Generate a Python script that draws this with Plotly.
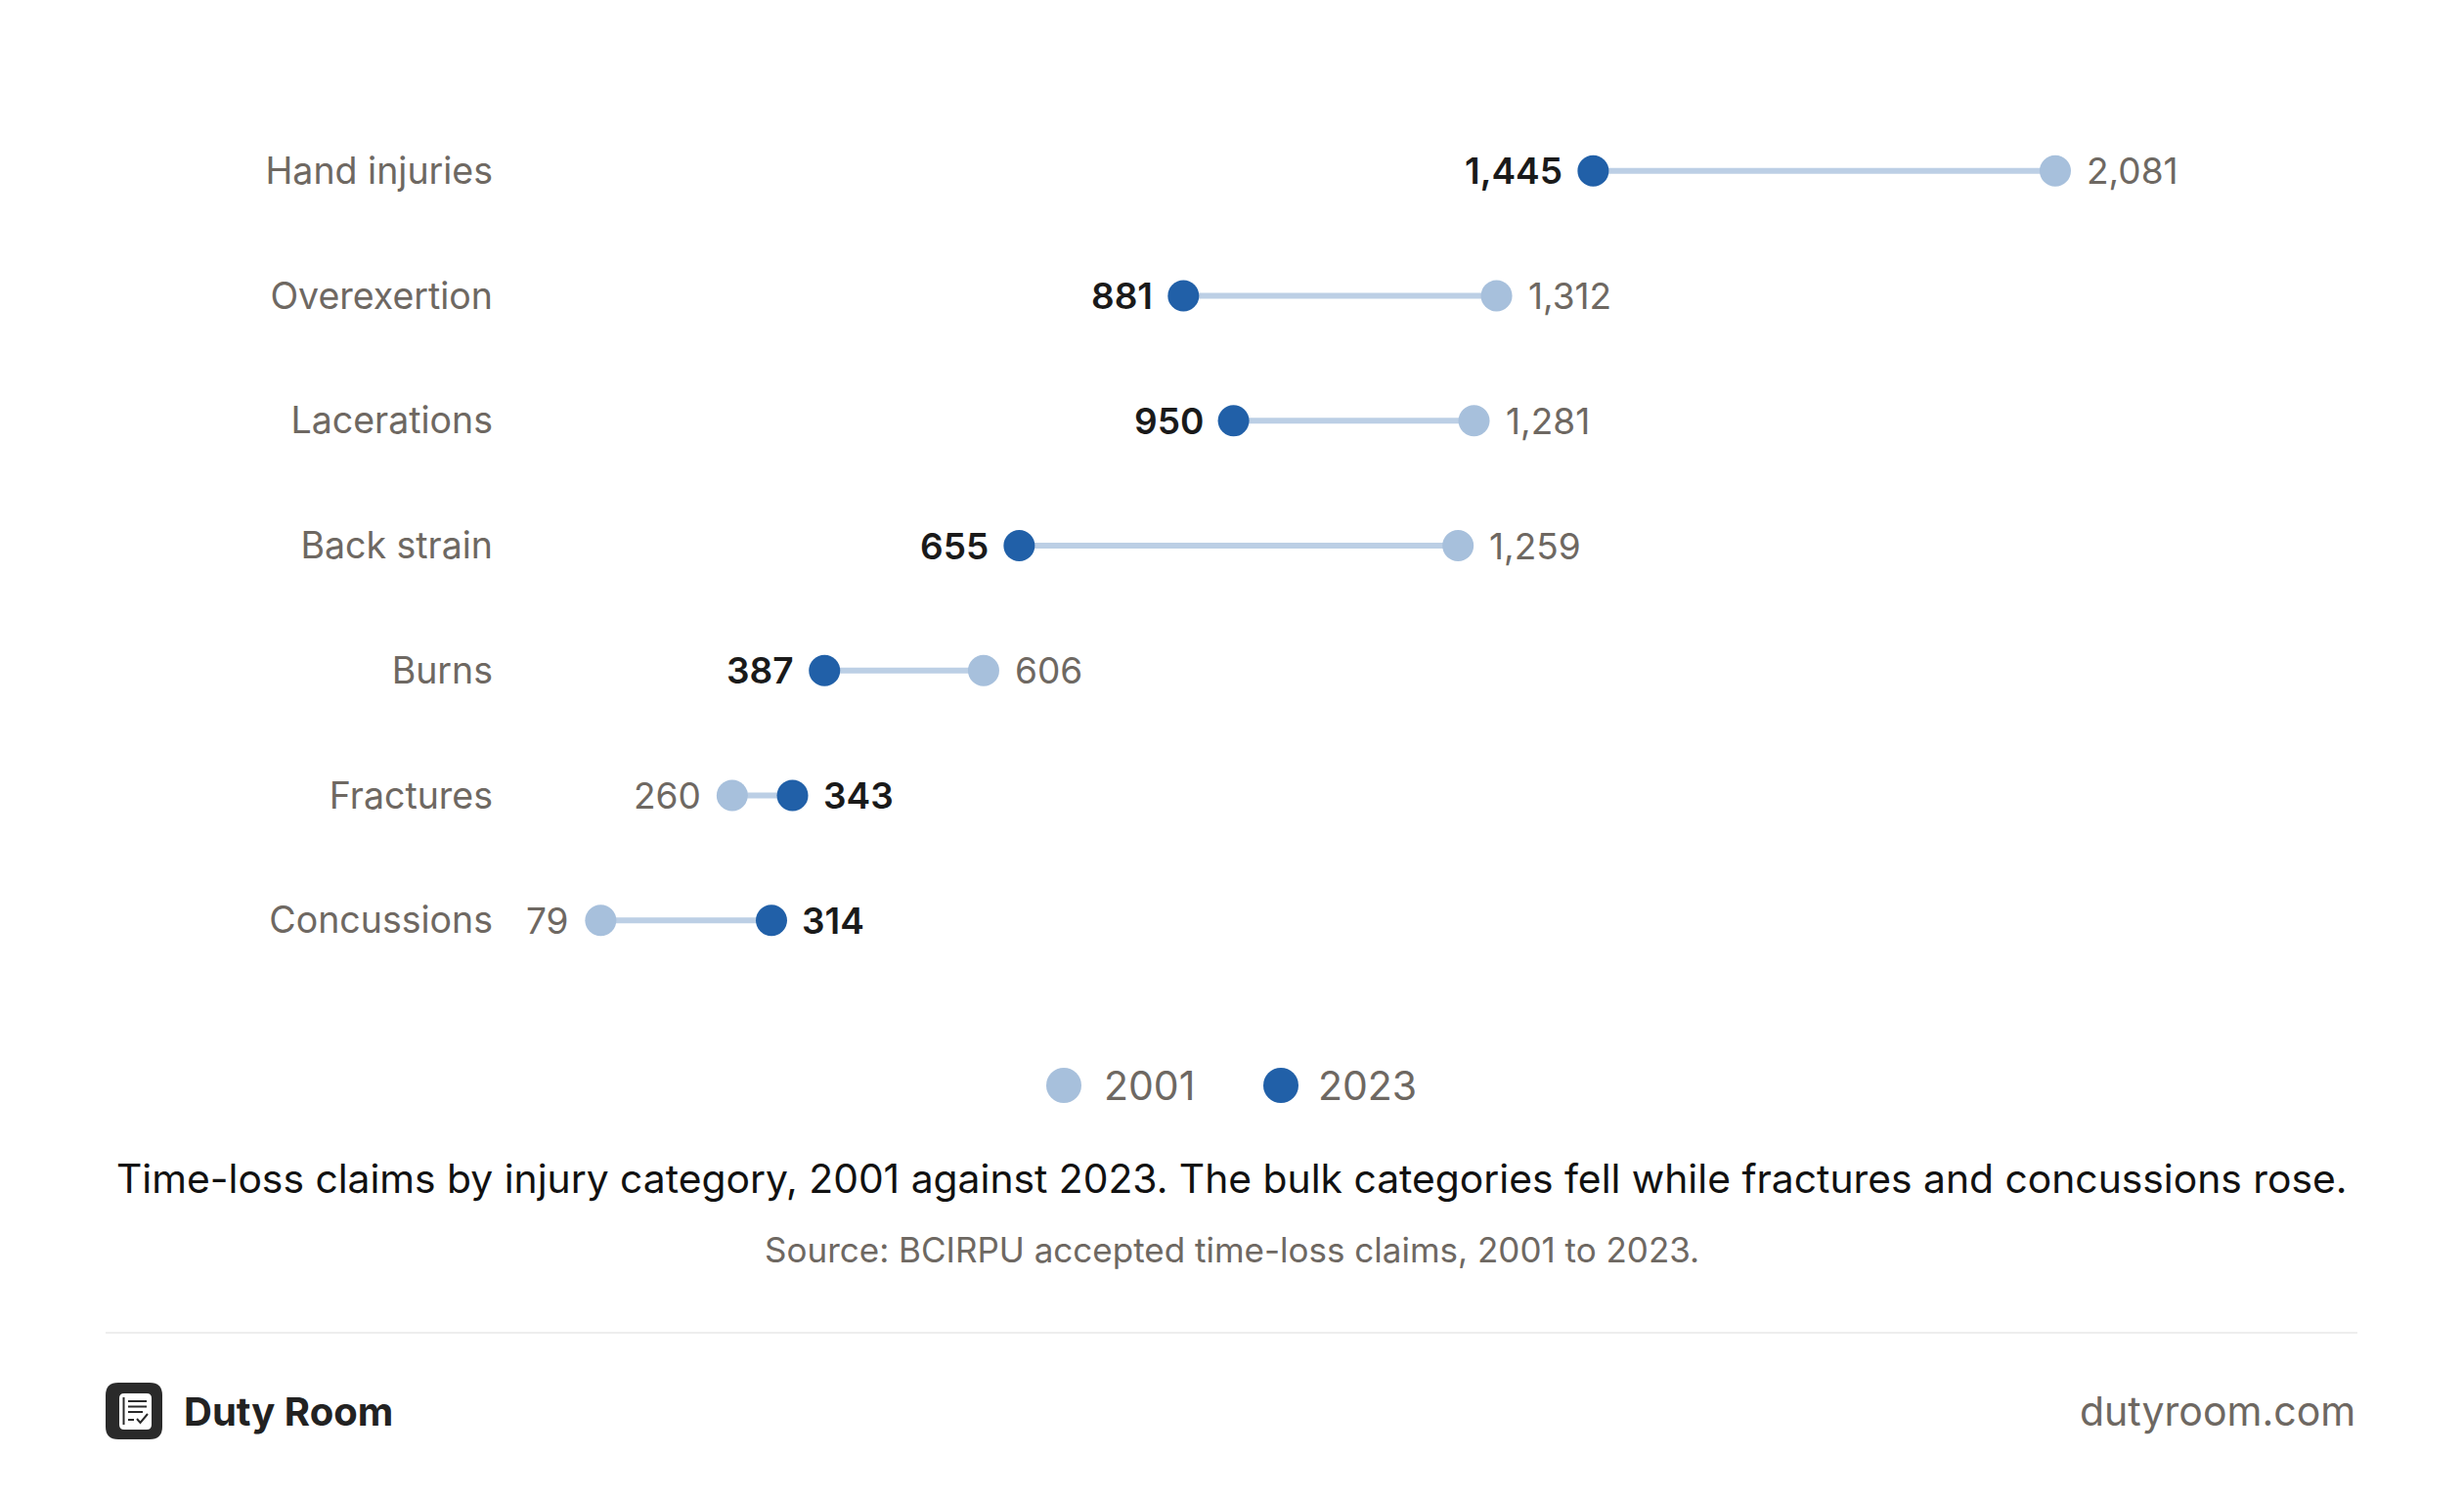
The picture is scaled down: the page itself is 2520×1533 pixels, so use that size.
import plotly.graph_objects as go

categories = ["Hand injuries", "Overexertion", "Lacerations", "Back strain",
              "Burns", "Fractures", "Concussions"]
claims_2001 = [2081, 1312, 1281, 1259, 606, 260, 79]
claims_2023 = [1445, 881, 950, 655, 387, 343, 314]
years = ["2001", "2023"]

C2001 = "#a7c0dc"
C2023 = "#2160a8"
CLINE = "#bccfe5"
GREY = "#6e6862"
INK = "#1a1a1a"
FONT = "Inter, 'Open Sans', sans-serif"

# page body has an 8px margin; work in screenshot pixels and convert
OFF = 8
W, H = 2504, 1517
PLOT_L, PLOT_R, PLOT_T, PLOT_B = 520, 2339, 110, 1006
ML = PLOT_L - OFF
MT = PLOT_T - OFF
MR = W - (PLOT_R - OFF)
MB = H - (PLOT_B - OFF)
PW = PLOT_R - PLOT_L
PH = PLOT_B - PLOT_T


def px(x):
    return (x - PLOT_L) / PW


def py(y):
    return (PLOT_B - y) / PH


# dumbbell connector lines
lx, ly = [], []
for cat, a, b in zip(categories, claims_2001, claims_2023):
    lx += [a, b, None]
    ly += [cat, cat, None]

fig = go.Figure()
fig.add_trace(go.Scatter(x=lx, y=ly, mode="lines", line=dict(color=CLINE, width=6),
                         showlegend=False, hoverinfo="skip"))
fig.add_trace(go.Scatter(x=claims_2001, y=categories, mode="markers", name=years[0],
                         marker=dict(color=C2001, size=32), showlegend=False))
fig.add_trace(go.Scatter(x=claims_2023, y=categories, mode="markers", name=years[1],
                         marker=dict(color=C2023, size=32), showlegend=False))

annotations = []
# value labels, placed on the outer side of each dumbbell
for cat, a, b in zip(categories, claims_2001, claims_2023):
    s = 1 if a > b else -1
    annotations.append(dict(x=a, y=cat, xref="x", yref="y", text=f"{a:,}",
                            xanchor="left" if s > 0 else "right", xshift=30 * s,
                            font=dict(size=37, color=GREY, family=FONT)))
    annotations.append(dict(x=b, y=cat, xref="x", yref="y", text=f"{b:,}",
                            xanchor="right" if s > 0 else "left", xshift=-29 * s,
                            font=dict(size=37, color=INK, family=FONT, weight=600)))
for a in annotations:
    a.update(showarrow=False, yanchor="middle")

texts = [
    dict(text=years[0], x=1127, y=1110, xanchor="left", font=dict(size=41, color=GREY)),
    dict(text=years[1], x=1346, y=1110, xanchor="left", font=dict(size=41, color=GREY)),
    dict(text="Time-loss claims by injury category, 2001 against 2023. The bulk categories fell while fractures and concussions rose.",
         x=1260, y=1205, font=dict(size=40.8, color="#111111")),
    dict(text="Source: BCIRPU accepted time-loss claims, 2001 to 2023.",
         x=1260, y=1278, font=dict(size=35, color=GREY)),
    dict(text="Duty Room", x=186, y=1443, xanchor="left",
         font=dict(size=40, color="#222222", weight=700)),
    dict(text="dutyroom.com", x=2411, y=1443, xanchor="right",
         font=dict(size=41, color=GREY)),
]
for a in texts:
    a.update(x=px(a["x"]), y=py(a["y"]), xref="paper", yref="paper",
             showarrow=False, yanchor="middle")
    a.setdefault("xanchor", "center")
    a["font"]["family"] = FONT
annotations += texts


def rrect(x0, y0, x1, y1, r):
    X0, X1 = px(x0), px(x1)
    Y0, Y1 = py(y0), py(y1)
    rx, ry = r / PW, r / PH
    return (f"M {X0 + rx},{Y0} L {X1 - rx},{Y0} Q {X1},{Y0} {X1},{Y0 - ry} "
            f"L {X1},{Y1 + ry} Q {X1},{Y1} {X1 - rx},{Y1} L {X0 + rx},{Y1} "
            f"Q {X0},{Y1} {X0},{Y1 + ry} L {X0},{Y0 - ry} Q {X0},{Y0} {X0 + rx},{Y0} Z")


def seg(x0, y0, x1, y1, color, width):
    return dict(type="line", xref="paper", yref="paper", x0=px(x0), y0=py(y0),
                x1=px(x1), y1=py(y1), line=dict(color=color, width=width))


def dot(cx, cy, d, color):
    return dict(type="circle", xref="paper", yref="paper",
                x0=px(cx - d / 2), x1=px(cx + d / 2), y0=py(cy + d / 2), y1=py(cy - d / 2),
                fillcolor=color, line=dict(width=0))


shapes = [
    dot(1088, 1110, 36, C2001),
    dot(1310, 1110, 36, C2023),
    seg(108, 1363, 2411, 1363, "#eeeeee", 2),
    dict(type="path", xref="paper", yref="paper", path=rrect(108, 1414, 166, 1472, 13),
         fillcolor="#2a2a2a", line=dict(width=0)),
    dict(type="path", xref="paper", yref="paper", path=rrect(122, 1425, 155, 1462, 5),
         fillcolor="white", line=dict(width=0)),
    seg(126.5, 1429, 126.5, 1457, "#2a2a2a", 2),
    seg(131, 1433, 150, 1433, "#2a2a2a", 2),
    seg(131, 1438.5, 150, 1438.5, "#2a2a2a", 2),
    seg(131, 1444, 146, 1444, "#2a2a2a", 2),
    seg(131, 1452, 137, 1452, "#2a2a2a", 2),
    dict(type="path", xref="paper", yref="paper",
         path=f"M {px(140)},{py(1451)} L {px(143.5)},{py(1455)} L {px(151)},{py(1446)}",
         line=dict(color="#2a2a2a", width=2)),
]

fig.update_layout(
    width=W, height=H,
    margin=dict(l=ML, r=MR, t=MT, b=MB),
    paper_bgcolor="white", plot_bgcolor="white",
    font=dict(family=FONT, color=GREY),
    showlegend=False,
    xaxis=dict(range=[-48, 2400], visible=False, fixedrange=True),
    yaxis=dict(categoryorder="array", categoryarray=categories, autorange="reversed",
               showgrid=False, zeroline=False, showline=False, ticks="",
               tickfont=dict(size=37.5, color=GREY, family=FONT), ticklabelstandoff=15),
    annotations=annotations,
    shapes=shapes,
)

fig.write_html("out.html")
